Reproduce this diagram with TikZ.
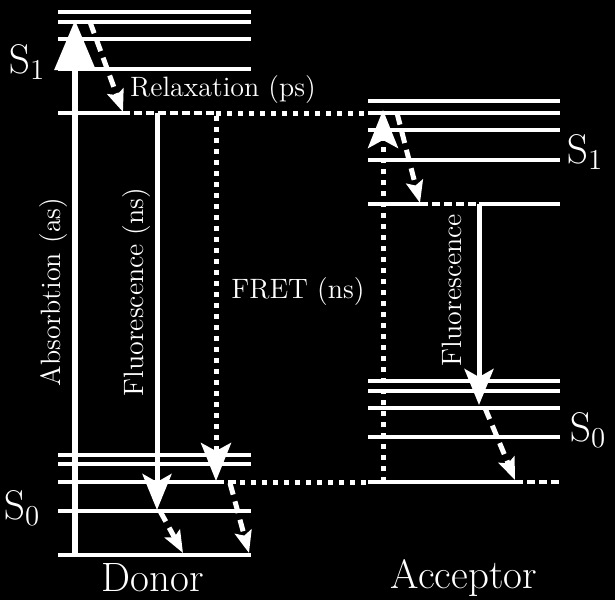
\documentclass[tikz,border=0pt]{standalone}
\usepackage{tikz}
\usetikzlibrary{arrows.meta,calc}
\tikzset{
  lvl/.style={white,line width=2pt},
  lvldash/.style={white,line width=2pt,dash pattern=on 4pt off 2pt},
  transfer/.style={white,line width=2.5pt,dash pattern=on 2.5pt off 3pt},
  absarr/.style={white,line width=3.2pt,-{Triangle[length=25pt,width=20pt]}},
  fretarr/.style={transfer,-{Stealth[length=19pt,width=15pt,inset=4pt]}},
  fluor/.style={white,line width=2.5pt,-{Stealth[length=18pt,width=14.5pt,inset=4pt]}},
  relax/.style={white,line width=2.5pt,dash pattern=on 6pt off 3.5pt,
    -{Stealth[length=11pt,width=8.5pt,inset=2pt]}},
  lbl/.style={white,inner sep=0pt,font=\fontsize{14}{16}\selectfont},
  statelbl/.style={white,inner sep=0pt,font=\fontsize{20}{22}\selectfont},
  molname/.style={white,inner sep=0pt,font=\fontsize{20.5}{22}\selectfont},
}
\begin{document}
\begin{tikzpicture}[x=0.5pt,y=-0.5pt]
  \fill[black] (0,0) rectangle (615,600);
  % donor levels
  \foreach \y in {12,22,39,69,455,464,511,555}
    \draw[lvl] (58,\y) -- (251,\y);
  \draw[lvl] (58,113) -- (122,113);
  \draw[lvldash] (122,113) -- (216,113);
  \draw[lvl] (58,482) -- (216,482);
  \draw[lvldash] (216,482) -- (240,482);
  % acceptor levels
  \foreach \y in {101,113,130,160,381,391,408,437}
    \draw[lvl] (368,\y) -- (560,\y);
  \draw[lvl] (368,204) -- (420,204);
  \draw[lvldash] (420,204) -- (479,204);
  \draw[lvl] (479,204) -- (560,204);
  \draw[lvl] (368,482) -- (515,482);
  \draw[lvldash] (515,482) -- (560,482);
  % transfer lines
  \draw[transfer] (216,113) -- (368,113);
  \draw[transfer] (240,482) -- (368,482);

  \coordinate (dgnd) at (75,555);
  \coordinate (dtop) at (75,20);
  \coordinate (drs) at (90,22);
  \coordinate (drt) at (123,112);
  \coordinate (dfs) at (157,113);
  \coordinate (dft) at (157,510);
  \coordinate (dvs) at (160,511);
  \coordinate (dvt) at (183,553);
  \coordinate (dxs) at (216,116);
  \coordinate (dxt) at (216,481);
  \coordinate (dws) at (230,483);
  \coordinate (dwt) at (249,553);
  \coordinate (agnd) at (383,482);
  \coordinate (atop) at (383,110);
  \coordinate (ars) at (397,113);
  \coordinate (art) at (420,203);
  \coordinate (afs) at (479,204);
  \coordinate (aft) at (479,405);
  \coordinate (avs) at (485,408);
  \coordinate (avt) at (515,480);

  \draw[absarr] (dgnd) -- (dtop);
  \draw[relax] (drs) -- (drt);
  \draw[fluor] (dfs) -- (dft);
  \draw[relax] (dvs) -- (dvt);
  \draw[fretarr] (dxs) -- (dxt);
  \draw[relax] (dws) -- (dwt);
  \draw[fretarr] (agnd) -- (atop);
  \draw[relax] (ars) -- (art);
  \draw[fluor] (afs) -- (aft);
  \draw[relax] (avs) -- (avt);

  % labels
  \node[statelbl] (ds1) at (27,62) {$\mathrm{S}_1$};
  \node[statelbl] (ds0) at (22,508) {$\mathrm{S}_0$};
  \node[statelbl] (as1) at (585,152) {$\mathrm{S}_1$};
  \node[statelbl] (as0) at (588,430) {$\mathrm{S}_0$};
  \node[lbl] (relaxlbl) at (223,90) {Relaxation (ps)};
  \node[lbl,rotate=90] (abslbl) at (54,292) {Absorbtion (as)};
  \node[lbl,rotate=90] (dfllbl) at (137,292) {Fluorescence (ns)};
  \node[lbl] (fretlbl) at (298,292) {FRET (ns)};
  \node[lbl,rotate=90] (afllbl) at (452,290) {Fluorescence};
  \node[molname] (donor) at (153,578) {Donor};
  \node[molname] (acceptor) at (464,578) {Acceptor};
\end{tikzpicture}
\end{document}
